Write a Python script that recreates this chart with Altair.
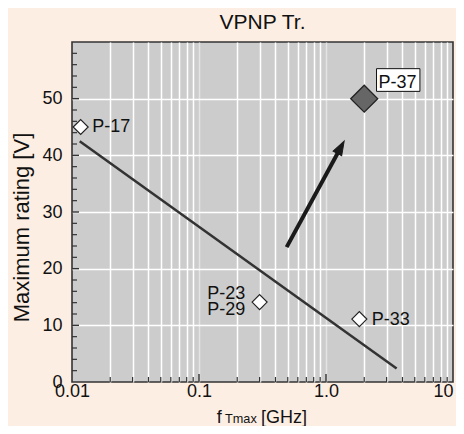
import altair as alt
import pandas as pd

# ---------------- data ----------------
pt_name = ["P-17", "P-23/P-29", "P-33", "P-37"]
pt_freq = [0.0117, 0.30, 1.83, 2.0]
pt_volt = [45.0, 14.1, 11.1, 50.0]

trend_freq = [0.0115, 3.6]
trend_volt = [42.5, 2.4]

arrow_freq = [0.49, 1.30]
arrow_volt = [23.8, 41.3]
arrow_tip_freq = [1.39]
arrow_tip_volt = [42.5]

x_label_values = [0.01, 0.1, 1, 10]
x_label_text = ["0.01", "0.1", "1.0", "10"]
y_label_values = [0, 10, 20, 30, 40, 50]

x_grid_values = [m * 10.0 ** e for e in (-2, -1, 0) for m in range(1, 10)] + [10]
x_major_ticks = [0.1, 1]
x_minor_ticks = [m * 10.0 ** e for e in (-2, -1, 0) for m in range(2, 10)]
y_major_ticks = [10, 20, 30, 40, 50]
y_minor_ticks = [v for v in range(2, 60, 2) if v % 10 != 0]

FONT = "Liberation Sans"
TXT = "#111111"

points = pd.DataFrame({"name": pt_name, "f": pt_freq, "v": pt_volt})
open_pts = points[points["name"] != "P-37"]
p37 = points[points["name"] == "P-37"]
trend = pd.DataFrame({"f": trend_freq, "v": trend_volt})
arrow = pd.DataFrame({"f": arrow_freq, "v": arrow_volt})
arrow_tip = pd.DataFrame({"f": arrow_tip_freq, "v": arrow_tip_volt})
one_row = pd.DataFrame({"k": [0]})

label_expr = " : ".join(
    f"datum.value == {v} ? '{t}'" for v, t in zip(x_label_values, x_label_text)
) + " : ''"

xscale = alt.Scale(type="log", domain=[0.01, 10])
yscale = alt.Scale(domain=[0, 60])

x_axis = alt.Axis(
    values=x_grid_values,
    labelExpr=label_expr,
    grid=True,
    gridColor={"condition": {"test": "datum.value == 0.1 || datum.value == 1", "value": "#e4e4e4"}, "value": "#ffffff"},
    gridOpacity={"condition": {"test": "datum.value <= 0.0101 || datum.value >= 9.99", "value": 0}, "value": 1},
    gridWidth=1.5,
    ticks=False,
    domain=False,
    labelFont=FONT,
    labelFontSize=18,
    labelColor=TXT,
    labelPadding=0,
    labelOverlap=False,
    labelFlush=False,
    labelAlign={"condition": {"test": "datum.value >= 9.99", "value": "right"}, "value": "center"},
    title=None,
)
y_axis = alt.Axis(
    values=y_label_values,
    grid=True,
    gridColor="#ffffff",
    gridOpacity={"condition": {"test": "datum.value <= 0", "value": 0}, "value": 1},
    gridWidth=1.5,
    ticks=False,
    domain=False,
    labelFont=FONT,
    labelFontSize=18,
    labelColor=TXT,
    labelPadding=10,
    title="Maximum rating [V]",
    titleFont=FONT,
    titleFontSize=22,
    titleFontWeight="normal",
    titleColor=TXT,
    titleAngle=270,
    titleAlign="center",
    titleBaseline="alphabetic",
    titleX=-44,
    titleY=185,
)


def X():
    return alt.X("f:Q", scale=xscale, axis=x_axis)


def Y():
    return alt.Y("v:Q", scale=yscale, axis=y_axis)


trend_line = alt.Chart(trend).mark_line(color="#333333", strokeWidth=2.5).encode(x=X(), y=Y())

arrow_shaft = alt.Chart(arrow).mark_line(color="#1a1a1a", strokeWidth=4).encode(x=X(), y=Y())
arrow_head = alt.Chart(arrow_tip).mark_point(
    shape="M0,0 L-0.7,2 L0.7,2 Z", size=196, angle=29, filled=True,
    fill="#1a1a1a", stroke="#1a1a1a", strokeWidth=1, opacity=1,
).encode(x=X(), y=Y())

open_marks = alt.Chart(open_pts).mark_point(
    shape="diamond", size=225, filled=True, fill="#ffffff",
    stroke="#222222", strokeWidth=1.2, opacity=1,
).encode(x=X(), y=Y())

p37_mark = alt.Chart(p37).mark_point(
    shape="diamond", size=729, filled=True, fill="#666666",
    stroke="#222222", strokeWidth=1.3, opacity=1,
).encode(x=X(), y=Y())

p37_box = alt.Chart(p37).mark_rect(
    xOffset=12.3, x2Offset=55.7, yOffset=-30, y2Offset=-7.3,
    fill="#ffffff", stroke="#111111", strokeWidth=1,
).encode(x=X(), x2="f", y=Y(), y2="v")


def label(df, text, dx, dy, align):
    return alt.Chart(df).mark_text(
        text=text, dx=dx, dy=dy, align=align, baseline="alphabetic",
        font=FONT, fontSize=18, color=TXT,
    ).encode(x=X(), y=Y())


lab17 = label(points[points["name"] == "P-17"], "P-17", 11.6, 5, "left")
lab23 = label(points[points["name"] == "P-23/P-29"], "P-23", -14.4, -2.7, "right")
lab29 = label(points[points["name"] == "P-23/P-29"], "P-29", -14.4, 13, "right")
lab33 = label(points[points["name"] == "P-33"], "P-33", 12.4, 5.7, "left")
lab37 = label(p37, "P-37", 14.3, -11, "left")

# inward ticks
xminor = alt.Chart(pd.DataFrame({"f": x_minor_ticks})).mark_rule(color="#333333", strokeWidth=1.2).encode(
    x=X(), y=alt.value(340), y2=alt.value(335))
xmajor = alt.Chart(pd.DataFrame({"f": x_major_ticks})).mark_rule(color="#333333", strokeWidth=1.4).encode(
    x=X(), y=alt.value(340), y2=alt.value(332))
yminor = alt.Chart(pd.DataFrame({"v": y_minor_ticks})).mark_rule(color="#333333", strokeWidth=1.2).encode(
    y=Y(), x=alt.value(0), x2=alt.value(5))
ymajor = alt.Chart(pd.DataFrame({"v": y_major_ticks})).mark_rule(color="#333333", strokeWidth=1.4).encode(
    y=Y(), x=alt.value(0), x2=alt.value(7))

# chart title and x-axis title (with subscript) as text
title_txt = alt.Chart(one_row).mark_text(text="VPNP Tr.", align="center", baseline="alphabetic",
                                         font=FONT, fontSize=21, color=TXT).encode(
    x=alt.value(190.5), y=alt.value(-12.7))
xt_f = alt.Chart(one_row).mark_text(text="f", align="left", baseline="alphabetic",
                                    font=FONT, fontSize=18, color=TXT).encode(
    x=alt.value(144.7), y=alt.value(381))
xt_sub = alt.Chart(one_row).mark_text(text="Tmax", align="left", baseline="alphabetic",
                                      font=FONT, fontSize=12.7, color=TXT).encode(
    x=alt.value(153), y=alt.value(381))
xt_unit = alt.Chart(one_row).mark_text(text="[GHz]", align="left", baseline="alphabetic",
                                       font=FONT, fontSize=18, color=TXT).encode(
    x=alt.value(189), y=alt.value(381))

chart = alt.layer(
    trend_line, arrow_shaft, arrow_head, open_marks, p37_mark, p37_box,
    lab17, lab23, lab29, lab33, lab37, xminor, xmajor, yminor, ymajor,
    title_txt, xt_f, xt_sub, xt_unit,
).properties(
    width=381,
    height=340,
    padding={"left": 64, "top": 34, "right": 3, "bottom": 44},
    autosize=alt.AutoSizeParams(type="none"),
    background="#FDEEE3",
).configure_view(fill="#CCCCCC", stroke="#333333", strokeWidth=1.6)

chart.save("out.html", embed_options={"renderer": "svg", "actions": False})
